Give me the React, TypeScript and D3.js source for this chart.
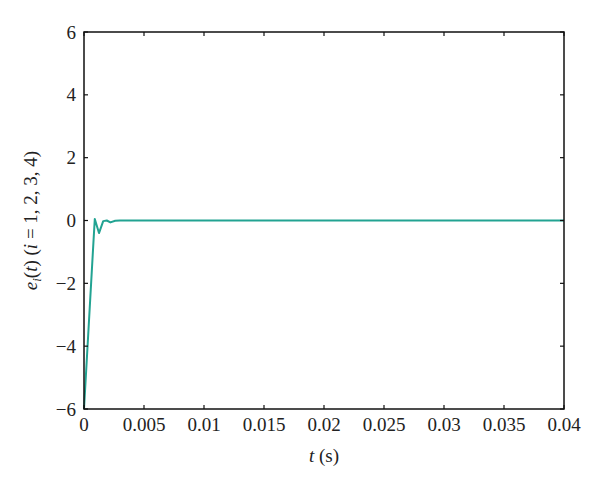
import React from "react";
import * as d3 from "d3";

const tValues = [0, 0.0008, 0.0009, 0.00125, 0.0016, 0.0019, 0.0022, 0.0026, 0.003, 0.01, 0.02, 0.03, 0.04];
const eValues = [-6, -0.6, 0.05, -0.4, -0.02, 0, -0.06, -0.01, 0, 0, 0, 0, 0];
const xTicks = [0, 0.005, 0.01, 0.015, 0.02, 0.025, 0.03, 0.035, 0.04];
const xTickLabels = ["0", "0.005", "0.01", "0.015", "0.02", "0.025", "0.03", "0.035", "0.04"];
const yTicks = [-6, -4, -2, 0, 2, 4, 6];
const yTickLabels = ["\u22126", "\u22124", "\u22122", "0", "2", "4", "6"];

const W = 600, H = 486;
const L = 84, R = 564, T = 32, B = 409;
const FONT = "'Liberation Serif', 'Times New Roman', serif";

export default function App() {
  const x = d3.scaleLinear().domain([0, 0.04]).range([L, R]);
  const y = d3.scaleLinear().domain([-6, 6]).range([B, T]);
  const pts = tValues.map((t, i) => [t, eValues[i]] as [number, number]);
  const line = d3.line<[number, number]>().x(d => x(d[0])).y(d => y(d[1]));
  const tl = 4;
  return (
    <svg width={W} height={H} style={{ position: "absolute", left: 0, top: 0, background: "#fff" }}>
      <rect x={0} y={0} width={W} height={H} fill="#fff" />
      <path d={line(pts) || ""} fill="none" stroke="#22a392" strokeWidth={2} strokeLinejoin="round" />
      <rect x={L} y={T} width={R - L} height={B - T} fill="none" stroke="#111" strokeWidth={1.5} />
      {xTicks.map((v, i) => (
        <g key={"x" + i}>
          <line x1={x(v)} x2={x(v)} y1={B} y2={B - tl} stroke="#111" strokeWidth={1.2} />
          <line x1={x(v)} x2={x(v)} y1={T} y2={T + tl} stroke="#111" strokeWidth={1.2} />
          <text x={x(v)} y={B + 22} textAnchor="middle" fontFamily={FONT} fontSize={19} fill="#222">{xTickLabels[i]}</text>
        </g>
      ))}
      {yTicks.map((v, i) => (
        <g key={"y" + i}>
          <line x1={L} x2={L + tl} y1={y(v)} y2={y(v)} stroke="#111" strokeWidth={1.2} />
          <line x1={R} x2={R - tl} y1={y(v)} y2={y(v)} stroke="#111" strokeWidth={1.2} />
          <text x={L - 8} y={y(v)} dy="0.35em" textAnchor="end" fontFamily={FONT} fontSize={19} fill="#222">{yTickLabels[i]}</text>
        </g>
      ))}
      <text x={324} y={462} textAnchor="middle" fontFamily={FONT} fontSize={19} fill="#222">
        <tspan fontStyle="italic">t</tspan> (s)
      </text>
      <text transform={`translate(37,${(T + B) / 2}) rotate(-90)`} textAnchor="middle" fontFamily={FONT} fontSize={19} fill="#222">
        <tspan fontStyle="italic">e</tspan>
        <tspan fontStyle="italic" fontSize={13} dy={4}>i</tspan>
        <tspan dy={-4}>(</tspan>
        <tspan fontStyle="italic">t</tspan>
        <tspan>) (</tspan>
        <tspan fontStyle="italic">i</tspan>
        <tspan> = 1, 2, 3, 4)</tspan>
      </text>
    </svg>
  );
}
